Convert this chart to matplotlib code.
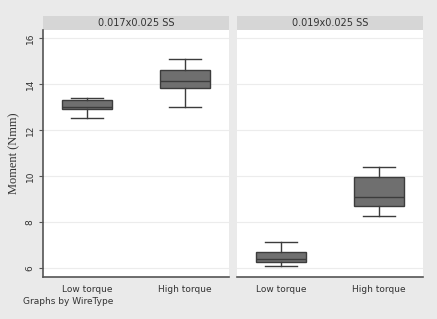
"""
Box plots of moment by torque level, one panel per wire type
"""
import matplotlib
matplotlib.use('Agg')
import matplotlib.pyplot as plt
from matplotlib.patches import Rectangle

# data
wire_types = ['0.017x0.025 SS', '0.019x0.025 SS']
torque_levels = ['Low torque', 'High torque']
# per wire type: [low torque, high torque]
whisker_low = [[12.54, 13.0], [6.10, 8.25]]
q1 = [[12.90, 13.84], [6.27, 8.71]]
median = [[13.01, 14.15], [6.39, 9.09]]
q3 = [[13.30, 14.62], [6.68, 9.96]]
whisker_high = [[13.40, 15.10], [7.13, 10.39]]
y_ticks = [6, 8, 10, 12, 14, 16]

bg = '#eaeaea'
strip = '#d6d6d6'
box_fill = '#6f6f6f'
box_edge = '#3c3c3c'

fig = plt.figure(figsize=(4.37, 3.19), dpi=100, facecolor=bg)
W, H = 437, 319
panels = [(43, 229), (236.7, 423)]
top, bottom = 30, 277

for i, (x0, x1) in enumerate(panels):
    ax = fig.add_axes([x0 / W, (H - bottom) / H, (x1 - x0) / W, (bottom - top) / H])
    ax.set_facecolor('white')
    stats = []
    for j in range(2):
        stats.append(dict(whislo=whisker_low[i][j], q1=q1[i][j], med=median[i][j],
                          q3=q3[i][j], whishi=whisker_high[i][j], fliers=[]))
    ax.bxp(stats, positions=[0, 1], widths=0.51, patch_artist=True, showfliers=False,
           boxprops=dict(facecolor=box_fill, edgecolor=box_edge, linewidth=1.0),
           medianprops=dict(color=box_edge, linewidth=1.0),
           whiskerprops=dict(color=box_edge, linewidth=1.0),
           capprops=dict(color=box_edge, linewidth=1.0),
           capwidths=0.32)
    ax.set_xlim(-0.45, 1.45)
    ax.set_ylim(5.61, 16.35)
    ax.set_yticks(y_ticks)
    ax.grid(axis='y', color='#ececec', linewidth=0.8)
    ax.set_axisbelow(True)
    ax.set_xticks([0, 1])
    ax.set_xticklabels(torque_levels, fontsize=6.5, color='#333333')
    ax.tick_params(axis='x', length=0, pad=6)
    for s in ['top', 'right']:
        ax.spines[s].set_visible(False)
    ax.spines['bottom'].set_color('#555555')
    ax.spines['bottom'].set_linewidth(1.2)
    if i == 0:
        ax.spines['left'].set_color('#555555')
        ax.spines['left'].set_linewidth(1.2)
        ax.set_yticklabels([str(t) for t in y_ticks], rotation=90, va='center',
                           fontsize=6.5, color='#333333')
        ax.tick_params(axis='y', length=3, color='#555555', pad=3)
        ax.set_ylabel('Moment (Nmm)', family='Liberation Serif', fontsize=9,
                      color='#333333', labelpad=4)
    else:
        ax.spines['left'].set_visible(False)
        ax.tick_params(axis='y', length=0, labelleft=False)
    # title strip
    sh = 14 / (bottom - top)
    ax.add_patch(Rectangle((0, 1), 1, sh, transform=ax.transAxes, clip_on=False,
                           facecolor=strip, edgecolor='none'))
    ax.text(0.5, 1 + sh / 2, wire_types[i], transform=ax.transAxes, ha='center',
            va='center', fontsize=7, color='#333333')

fig.text(23 / W, 1 - 302 / H, 'Graphs by WireType', fontsize=6.5, color='#333333',
         va='center')

fig.savefig('out.png', dpi=100, facecolor=bg)
